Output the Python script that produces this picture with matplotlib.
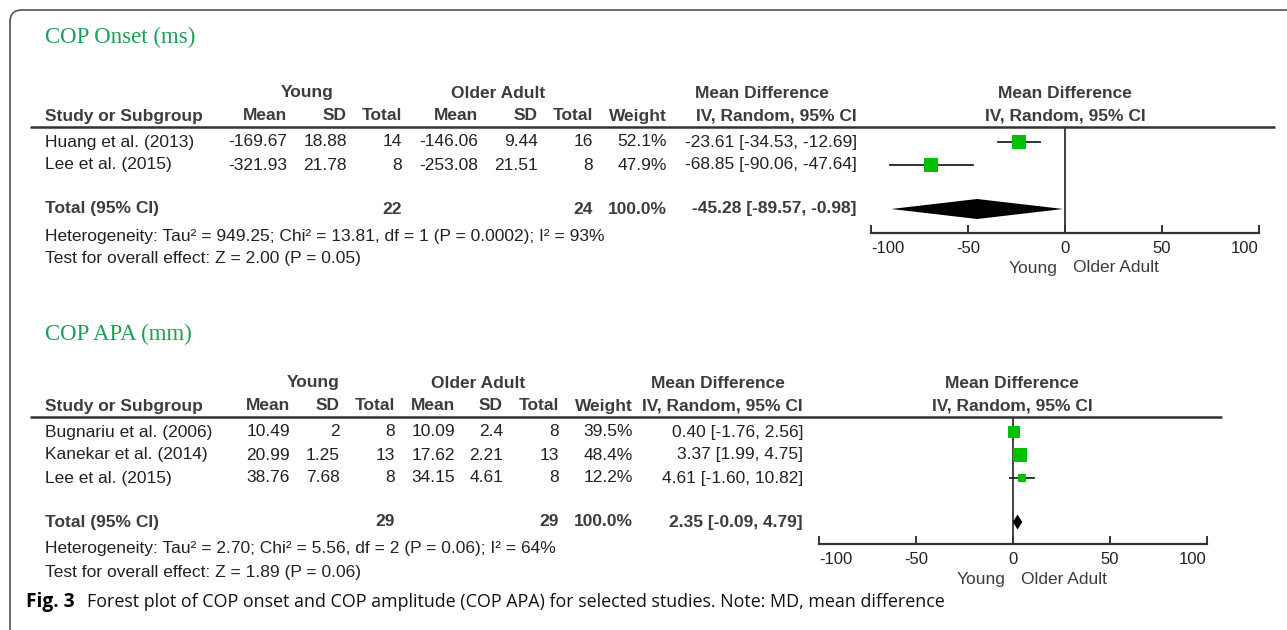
import numpy as np
import matplotlib.pyplot as plt
from matplotlib.patches import FancyBboxPatch
from matplotlib.ticker import FixedLocator

plt.rcParams["axes.unicode_minus"] = False

W, H = 1287, 630

# ---- data: COP onset (ms) ----
onset_studies = ["Huang et al. (2013)", "Lee et al. (2015)"]
onset_young_mean = [-169.67, -321.93]
onset_young_sd = [18.88, 21.78]
onset_young_n = [14, 8]
onset_old_mean = [-146.06, -253.08]
onset_old_sd = [9.44, 21.51]
onset_old_n = [16, 8]
onset_weight = [52.1, 47.9]
onset_md = [-23.61, -68.85]
onset_lo = [-34.53, -90.06]
onset_hi = [-12.69, -47.64]
onset_total = [-45.28, -89.57, -0.98]
onset_het = "Heterogeneity: Tau\u00b2 = 949.25; Chi\u00b2 = 13.81, df = 1 (P = 0.0002); I\u00b2 = 93%"
onset_test = "Test for overall effect: Z = 2.00 (P = 0.05)"

# ---- data: COP APA (mm) ----
apa_studies = ["Bugnariu et al. (2006)", "Kanekar et al. (2014)", "Lee et al. (2015)"]
apa_young_mean = [10.49, 20.99, 38.76]
apa_young_sd = [2, 1.25, 7.68]
apa_young_n = [8, 13, 8]
apa_old_mean = [10.09, 17.62, 34.15]
apa_old_sd = [2.4, 2.21, 4.61]
apa_old_n = [8, 13, 8]
apa_weight = [39.5, 48.4, 12.2]
apa_md = [0.40, 3.37, 4.61]
apa_lo = [-1.76, 1.99, -1.60]
apa_hi = [2.56, 4.75, 10.82]
apa_total = [2.35, -0.09, 4.79]
apa_het = "Heterogeneity: Tau\u00b2 = 2.70; Chi\u00b2 = 5.56, df = 2 (P = 0.06); I\u00b2 = 64%"
apa_test = "Test for overall effect: Z = 1.89 (P = 0.06)"

axis_ticks = [-100, -50, 0, 50, 100]

SANS = "Liberation Sans"
FS = 12.5
TXT = "#222222"
HDR = "#3c3c3c"
GREEN = "#00c000"

fig = plt.figure(figsize=(W / 100, H / 100), dpi=100)
bg = fig.add_axes([0, 0, 1, 1])
bg.set_xlim(0, W)
bg.set_ylim(H, 0)
bg.axis("off")

# outer rounded frame (right/bottom edges run off the picture)
bg.add_patch(FancyBboxPatch((10, 10), 1320, 636,
                            boxstyle="round,pad=0,rounding_size=12",
                            fill=False, ec="#555555", lw=1.2))


def txt(x, y, s, ha="left", bold=False, color=TXT, **kw):
    bg.text(x, y, s, ha=ha, va="center", fontsize=FS, family=SANS,
            fontweight="bold" if bold else "normal", color=color, **kw)


def draw_panel(title, y0, cols, hdr1, rule_x1, forest_px, rows, diam_h,
               studies, ym, ysd, yn, om, osd, on, wt, md, lo, hi, tot, het, test):
    # title
    bg.text(45, y0, title, ha="left", va="center", fontsize=16.5,
            family="Liberation Serif", color="#1f9e55")

    yh1, yh2, yrule = rows["h1"], rows["h2"], rows["rule"]
    # header row 1
    for label, xc in hdr1:
        txt(xc, yh1, label, ha="center", bold=True, color=HDR)
    # header row 2
    txt(45, yh2, "Study or Subgroup", bold=True, color=HDR)
    names = ["Mean", "SD", "Total", "Mean", "SD", "Total", "Weight", "IV, Random, 95% CI"]
    for name, xc in zip(names, cols):
        txt(xc, yh2, name, ha="right", bold=True, color=HDR)
    bg.plot([30, rule_x1], [yrule, yrule], color="#333333", lw=1.8,
            solid_capstyle="butt")

    # study rows
    for i, st in enumerate(studies):
        y = rows["study"][i]
        txt(45, y, st)
        vals = [f"{ym[i]:g}", f"{ysd[i]:g}", f"{yn[i]}",
                f"{om[i]:g}", f"{osd[i]:g}", f"{on[i]}",
                f"{wt[i]:.1f}%", f"{md[i]:.2f} [{lo[i]:.2f}, {hi[i]:.2f}]"]
        for v, xc in zip(vals, cols):
            txt(xc, y, v, ha="right")

    # total row
    yt = rows["total"]
    txt(45, yt, "Total (95% CI)", bold=True, color=HDR)
    txt(cols[2], yt, f"{sum(yn)}", ha="right", bold=True, color=HDR)
    txt(cols[5], yt, f"{sum(on)}", ha="right", bold=True, color=HDR)
    txt(cols[6], yt, "100.0%", ha="right", bold=True, color=HDR)
    txt(cols[7], yt, f"{tot[0]:.2f} [{tot[1]:.2f}, {tot[2]:.2f}]",
        ha="right", bold=True, color=HDR)
    txt(45, rows["het"], het)
    txt(45, rows["test"], test)

    # forest plot axes, y in picture pixels
    x_lo, x_hi, y_axis = forest_px
    ax = fig.add_axes([x_lo / W, 1 - y_axis / H, (x_hi - x_lo) / W, (y_axis - yrule) / H])
    ax.set_xlim(-100, 100)
    ax.set_ylim(y_axis, yrule)
    ax.patch.set_alpha(0)
    for sp in ["top", "left", "right"]:
        ax.spines[sp].set_visible(False)
    ax.spines["bottom"].set_color("#333333")
    ax.spines["bottom"].set_linewidth(1.6)
    ax.set_yticks([])
    ax.xaxis.set_major_locator(FixedLocator(axis_ticks))
    ax.xaxis.set_minor_locator(FixedLocator([axis_ticks[0], axis_ticks[-1]]))
    ax.tick_params(axis="x", which="major", direction="in", length=6, width=1.4,
                   color="#333333", pad=6, labelsize=12, labelcolor=TXT)
    ax.tick_params(axis="x", which="minor", direction="out", length=3.5, width=1.4,
                   color="#333333")
    labels = ax.get_xticklabels()
    for lab in labels:
        lab.set_family(SANS)
    # end labels sit inside the axis ends
    labels[0].set_horizontalalignment("left")
    labels[-1].set_horizontalalignment("right")
    ax.axvline(0, color="#333333", lw=1.3, zorder=1)

    for i in range(len(studies)):
        y = rows["study"][i]
        ax.plot([lo[i], hi[i]], [y, y], color="#222222", lw=1.3, zorder=2)
        side = 2.05 * np.sqrt(wt[i]) * 0.72
        ax.plot(md[i], y, marker="s", ms=side, color=GREEN, mew=0, zorder=3)
    ax.fill([tot[1], tot[0], tot[2], tot[0]],
            [yt, yt - diam_h / 2, yt, yt + diam_h / 2], color="black", lw=0, zorder=3)

    yl = y_axis + 35
    ax.text(-4, yl, "Young", ha="right", va="center", fontsize=FS, family=SANS, color=HDR)
    ax.text(4, yl, "Older Adult", ha="left", va="center", fontsize=FS, family=SANS, color=HDR)


draw_panel("COP Onset (ms)", 37,
           [287, 347, 402, 478, 538, 593, 667, 857],
           [("Young", 307), ("Older Adult", 498), ("Mean Difference", 762),
            ("Mean Difference", 1065)],
           1275, (871, 1259, 233),
           {"h1": 93, "h2": 116, "rule": 127, "study": [142, 165], "total": 209,
            "het": 237, "test": 259},
           20,
           onset_studies, onset_young_mean, onset_young_sd, onset_young_n,
           onset_old_mean, onset_old_sd, onset_old_n, onset_weight,
           onset_md, onset_lo, onset_hi, onset_total, onset_het, onset_test)
# second header line in the forest column
txt(1065, 116, "IV, Random, 95% CI", ha="center", bold=True, color=HDR)

draw_panel("COP APA (mm)", 334,
           [290, 340, 395, 455, 503, 559, 633, 803],
           [("Young", 313), ("Older Adult", 478), ("Mean Difference", 718),
            ("Mean Difference", 1012)],
           1222, (819, 1207, 544),
           {"h1": 383, "h2": 406, "rule": 417, "study": [432, 455, 478], "total": 522,
            "het": 549, "test": 572},
           15,
           apa_studies, apa_young_mean, apa_young_sd, apa_young_n,
           apa_old_mean, apa_old_sd, apa_old_n, apa_weight,
           apa_md, apa_lo, apa_hi, apa_total, apa_het, apa_test)
txt(1012, 406, "IV, Random, 95% CI", ha="center", bold=True, color=HDR)

# caption
bg.text(26, 602, "Fig. 3", ha="left", va="center", fontsize=13.8, family="Open Sans",
        fontweight="bold", color="black")
bg.text(87, 602, "Forest plot of COP onset and COP amplitude (COP APA) for selected "
        "studies. Note: MD, mean difference", ha="left", va="center", fontsize=12.9,
        family="Open Sans", color="#111111")

fig.savefig("out.png", dpi=100)
